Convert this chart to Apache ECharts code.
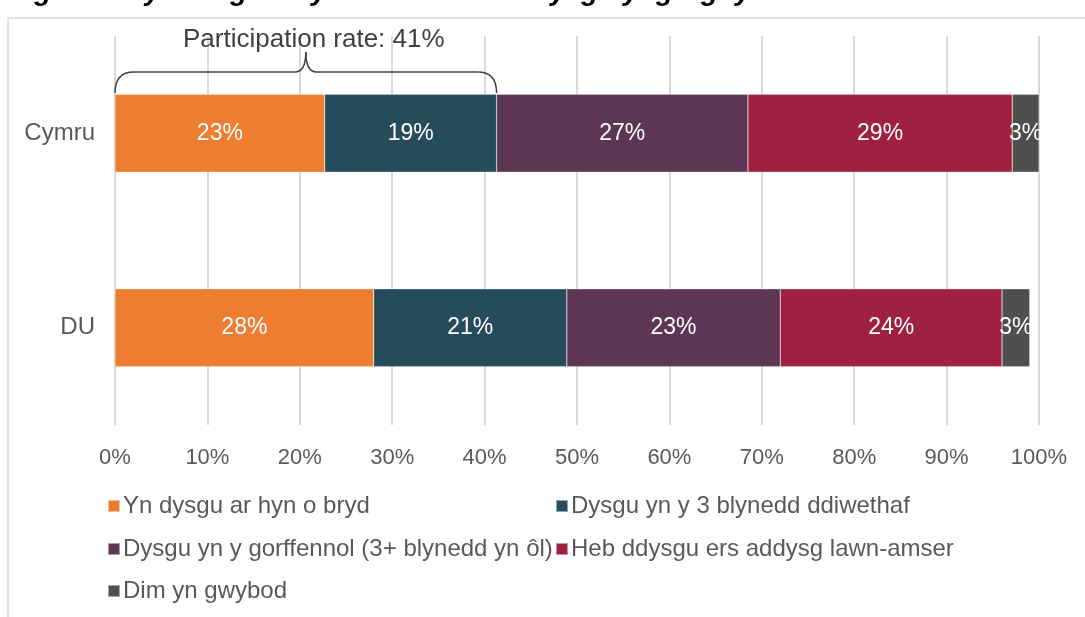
<!DOCTYPE html>
<html>
<head>
<meta charset="utf-8">
<script src="https://cdn.jsdelivr.net/npm/echarts@6/dist/echarts.min.js"></script>
<style>
    html, body { margin: 0; padding: 0; background: #fff; }
    #chart_main { width: 1085px; height: 617px; }
</style>
</head>
<body>
<div id="chart_main"></div>
<script>
// data
var categories = ['Cymru', 'DU'];
var seriesNames = ['Yn dysgu ar hyn o bryd', 'Dysgu yn y 3 blynedd ddiwethaf', 'Dysgu yn y gorffennol (3+ blynedd yn ôl)', 'Heb ddysgu ers addysg lawn-amser', 'Dim yn gwybod'];
var currentNow = [22.7, 28.0];
var last3Years = [18.6, 20.9];
var pastLearning = [27.2, 23.1];
var noLearning = [28.6, 24.0];
var dontKnow = [2.9, 3.0];
var xTicks = [0, 10, 20, 30, 40, 50, 60, 70, 80, 90, 100];
var participationRate = 41;

var colors = ['#ED7D31', '#264B5A', '#5D3654', '#A0213F', '#4F4F4F'];
var values = [currentNow, last3Years, pastLearning, noLearning, dontKnow];
var font = 'Liberation Sans, Arial, sans-serif';

var myChart = echarts.init(document.getElementById('chart_main'));

var series = seriesNames.map(function (name, i) {
    return {
        name: name,
        type: 'bar',
        stack: 'total',
        barWidth: '40%',
        itemStyle: { color: colors[i], borderColor: 'rgba(255,255,255,0.5)', borderWidth: 0.5 },
        label: {
            show: true,
            position: 'inside',
            color: '#fff',
            fontSize: 23,
            fontFamily: font,
            formatter: function (p) { return Math.round(p.value) + '%'; }
        },
        data: values[i]
    };
});

// legend layout: two columns, three rows
var legendPos = [[107, 494], [555, 494], [107, 537], [555, 537], [107, 579]];
var legends = seriesNames.map(function (name, i) {
    return {
        data: [name],
        left: legendPos[i][0],
        top: legendPos[i][1],
        itemWidth: 12,
        itemHeight: 12,
        itemGap: 0,
        padding: 0,
        icon: 'rect',
        textStyle: { color: '#595959', fontSize: 24, fontFamily: font, padding: [0, 0, 0, -2] }
    };
});

var option = {
    animation: false,
    color: colors,
    grid: { left: 115, right: 46, top: 36, bottom: 192 },
    legend: legends,
    xAxis: {
        type: 'value',
        min: xTicks[0],
        max: xTicks[xTicks.length - 1],
        interval: 10,
        axisLine: { show: false },
        axisTick: { show: false },
        axisLabel: { color: '#595959', fontSize: 22, fontFamily: font, margin: 22, formatter: '{value}%' },
        splitLine: { lineStyle: { color: '#d9d9d9', width: 2 } }
    },
    yAxis: {
        type: 'category',
        inverse: true,
        data: categories,
        axisLine: { show: false },
        axisTick: { show: false },
        axisLabel: { color: '#595959', fontSize: 24, fontFamily: font, margin: 20 }
    },
    series: series
};
myChart.setOption(option);

// brace annotation over the participation share of the first category
var x0 = myChart.convertToPixel({ xAxisIndex: 0 }, 0);
var x1 = myChart.convertToPixel({ xAxisIndex: 0 }, currentNow[0] + last3Years[0]);
var xm = (x0 + x1) / 2;
var yb = 93, yt = 72, yp = 52;
var braceStyle = { fill: null, stroke: '#404040', lineWidth: 1.5 };

function curve(ax, ay, cx, cy, bx, by) {
    return { type: 'bezierCurve', shape: { x1: ax, y1: ay, cpx1: cx, cpy1: cy, x2: bx, y2: by }, style: braceStyle, silent: true };
}
function seg(ax, ay, bx, by) {
    return { type: 'line', shape: { x1: ax, y1: ay, x2: bx, y2: by }, style: braceStyle, silent: true };
}

myChart.setOption({
    graphic: [
        {
            type: 'rect',
            shape: { x: 8, y: 18, width: 1100, height: 640 },
            style: { fill: null, stroke: '#d9d9d9', lineWidth: 1.5 },
            silent: true
        },
        {
            type: 'text',
            x: 0, y: 6,
            style: {
                text: 'Ffigwr 2: Cyfranogiad cyffredinol mewn dysgu yng Nghymru',
                font: 'italic bold 28px ' + font,
                fill: '#000',
                textVerticalAlign: 'bottom'
            }
        },
        curve(x0, yb, x0, yt, x0 + 19, yt),
        seg(x0 + 19, yt, xm - 11, yt),
        curve(xm - 11, yt, xm, yt, xm, yp),
        curve(xm, yp, xm, yt, xm + 11, yt),
        seg(xm + 11, yt, x1 - 19, yt),
        curve(x1 - 19, yt, x1, yt, x1, yb),
        {
            type: 'text',
            x: xm + 8, y: 40,
            style: {
                text: 'Participation rate: ' + participationRate + '%',
                font: '26px ' + font,
                fill: '#404040',
                textAlign: 'center',
                textVerticalAlign: 'middle'
            }
        }
    ]
});
</script>
</body>
</html>
